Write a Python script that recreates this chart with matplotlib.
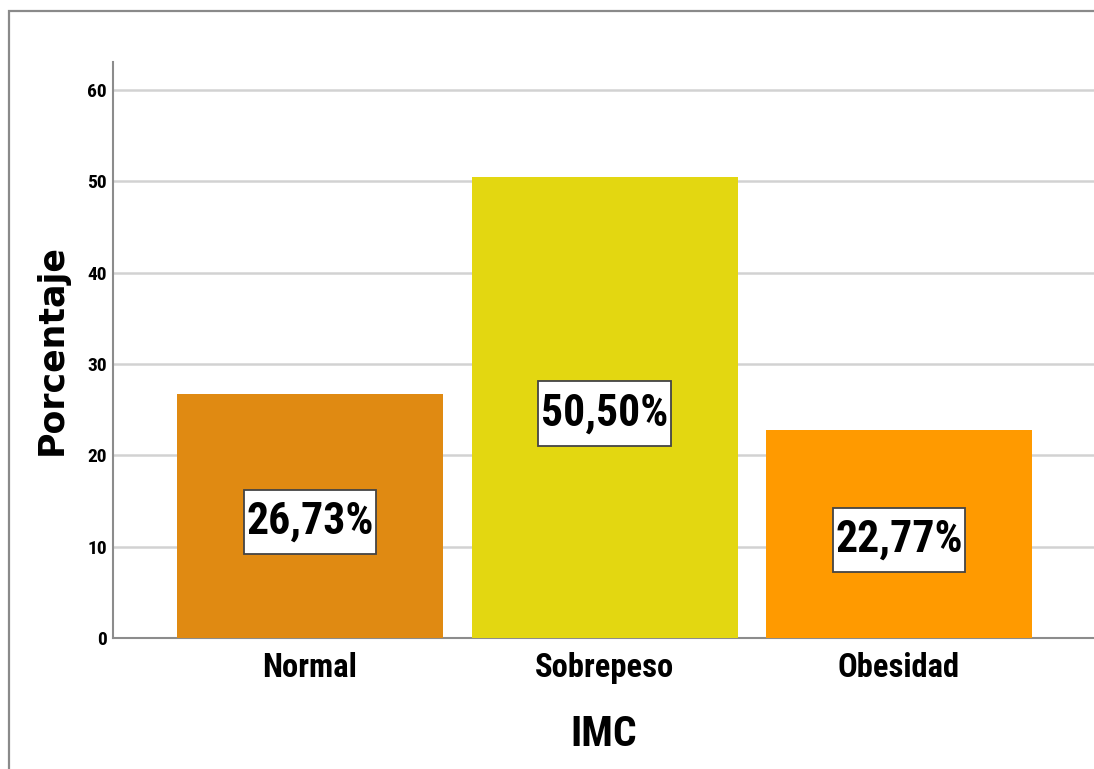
import matplotlib
matplotlib.use("Agg")
import matplotlib.pyplot as plt
from matplotlib.patches import Rectangle
from matplotlib.path import Path

categories = ["Normal", "Sobrepeso", "Obesidad"]
percentages = [26.73, 50.50, 22.77]
bar_colors = ["#E08A12", "#E3D711", "#FF9A00"]
y_ticks = [0, 10, 20, 30, 40, 50, 60]

NARROW = ["Roboto Condensed", "DejaVu Sans"]

W, H = 1094, 769
fig = plt.figure(figsize=(W / 100, H / 100), dpi=100)

# outer frame of the chart area
fig.patches.append(Rectangle((9 / W, -0.1), 1.2, 1 - 11 / H + 0.1,
                             transform=fig.transFigure, fill=False,
                             edgecolor="#8A8A8A", linewidth=1.6))


def label_box(x0, y0, width, height, mutation_size):
    """Rectangle with a small side pad and a taller top/bottom pad."""
    px = 0.06 * mutation_size
    py = 0.26 * mutation_size
    x1, y1 = x0 - px, y0 - py
    x2, y2 = x0 + width + px, y0 + height + py
    return Path([(x1, y1), (x2, y1), (x2, y2), (x1, y2), (x1, y1)],
                closed=True)


ax = fig.add_axes([113 / W, (H - 638) / H, (W - 113) / W, (638 - 62) / H])
x = list(range(len(categories)))
ax.bar(x, percentages, width=0.903, color=bar_colors, zorder=3)

ax.set_xlim(-0.669, 2.662)
ax.set_ylim(0, 63.07)
ax.set_yticks(y_ticks)
ax.set_yticklabels([str(t) for t in y_ticks])
ax.set_xticks(x)
ax.set_xticklabels(categories)

ax.grid(axis="y", color="#D2D2D2", linewidth=1.8, zorder=0)
ax.set_axisbelow(True)
for side in ("top", "right"):
    ax.spines[side].set_visible(False)
for side in ("left", "bottom"):
    ax.spines[side].set_color("#8C8C8C")
    ax.spines[side].set_linewidth(1.5)

ax.tick_params(axis="y", length=0, pad=4.5)
ax.tick_params(axis="x", length=0, pad=10)
for lbl in ax.get_yticklabels():
    lbl.set_fontfamily(NARROW)
    lbl.set_fontweight("bold")
    lbl.set_fontsize(14)
for lbl in ax.get_xticklabels():
    lbl.set_fontfamily(NARROW)
    lbl.set_fontweight("bold")
    lbl.set_fontsize(23.5)

ax.set_xlabel("IMC", fontsize=30, fontweight="bold", family=NARROW, labelpad=22)
ax.set_ylabel("Porcentaje", fontsize=25, fontweight="bold", family="DejaVu Sans",
              labelpad=13)

for xi, val in zip(x, percentages):
    ax.annotate(f"{val:.2f}%".replace(".", ","), xy=(xi, val / 2),
                xytext=(0, -4.3), textcoords="offset points",
                ha="center", va="center", fontsize=31.5, fontweight="bold",
                family=NARROW, color="black", zorder=5,
                bbox=dict(boxstyle=label_box, facecolor="white",
                          edgecolor="#444444", linewidth=1.3))

fig.savefig("out.png", dpi=100)
